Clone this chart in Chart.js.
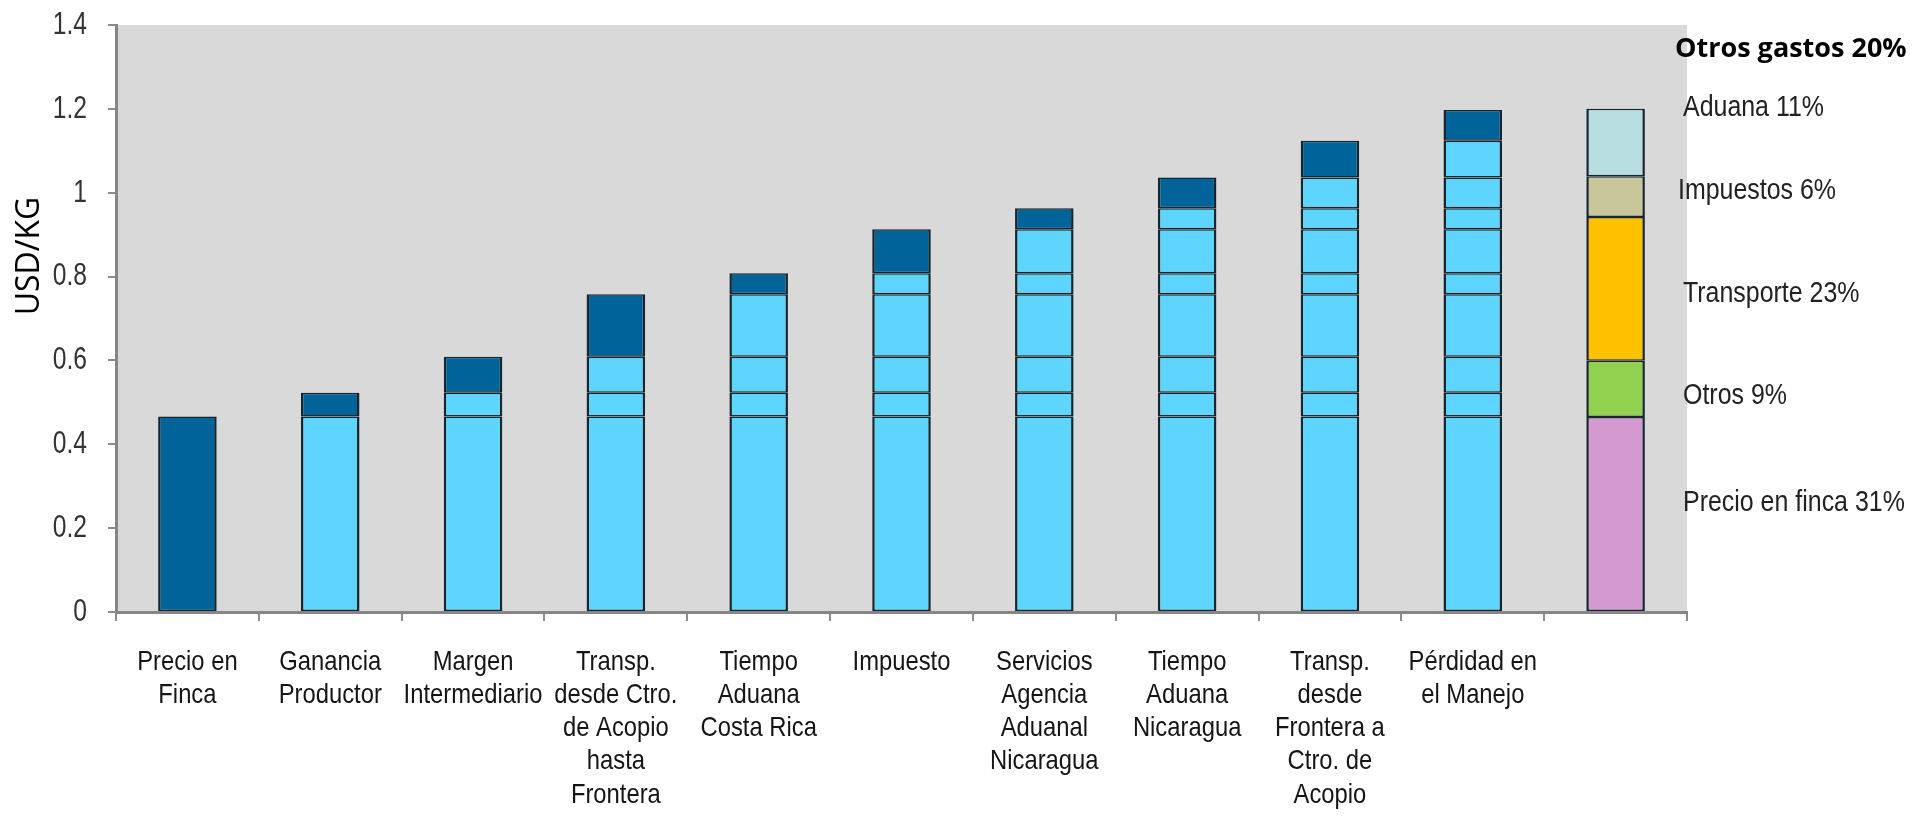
<!DOCTYPE html>
<html><head><meta charset="utf-8">
<script src="https://cdn.jsdelivr.net/npm/chart.js@4"></script>
<style>html,body{margin:0;padding:0;background:#fff;overflow:hidden}#wrap{width:1923px;height:818px;position:relative}</style>
</head><body><div id="wrap"><canvas id="c"></canvas></div>
<script>
// ---- data ----
const categories = [["Precio en","Finca"],["Ganancia","Productor"],["Margen","Intermediario"],["Transp.","desde Ctro.","de Acopio","hasta","Frontera"],["Tiempo","Aduana","Costa Rica"],["Impuesto"],["Servicios","Agencia","Aduanal","Nicaragua"],["Tiempo","Aduana","Nicaragua"],["Transp.","desde","Frontera a","Ctro. de","Acopio"],["Pérdidad en","el Manejo"],[""]];
const increments = [0.466,0.057,0.086,0.149,0.050,0.105,0.050,0.073,0.088,0.073];
const summaryNames = ["Precio en finca","Otros","Transporte","Impuestos","Aduana"];
const summaryValues = [0.465,0.134,0.343,0.097,0.161];
const summaryLabels = ["Precio en finca 31%","Otros 9%","Transporte 23%","Impuestos 6%","Aduana 11%"];
const headerLabel = "Otros gastos 20%";
const yTicks = [0,0.2,0.4,0.6,0.8,1,1.2,1.4];
const yTitle = "USD/KG";

// ---- styles ----
const DARK = '#00649a', LIGHT = '#5dd5fe', EDGE = '#15262e';
const summaryColors = ['#d49ad0','#92d050','#ffc000','#c9c69c','#b8dde1'];
const SANS = '"Liberation Sans", Arial, sans-serif';
const nCat = categories.length, summaryIndex = nCat - 1;
const bw = {top:1.5,bottom:1.5,left:2.5,right:2.5};

const datasets = [];
increments.forEach((v,k)=>{
  datasets.push({
    label: categories[k].join(' '),
    data: categories.map((_,i)=> (i>=k && i<summaryIndex) ? v : null),
    backgroundColor: categories.map((_,i)=> i===k ? DARK : LIGHT),
    borderColor: EDGE, borderWidth: bw, borderSkipped:false
  });
});
summaryValues.forEach((v,k)=>{
  datasets.push({
    label: summaryNames[k],
    data: categories.map((_,i)=> i===summaryIndex ? v : null),
    backgroundColor: summaryColors[k],
    borderColor: EDGE, borderWidth: bw, borderSkipped:false
  });
});

function narrowText(ctx, text, x, y, sx, align){
  ctx.save();
  ctx.translate(x, y);
  ctx.scale(sx, 1);
  ctx.textAlign = align;
  ctx.fillText(text, 0, 0);
  ctx.restore();
}

const bgPlugin = {
  id:'bg',
  beforeDraw(chart){
    const {ctx, chartArea:a} = chart;
    ctx.save(); ctx.fillStyle='#d9d9d9';
    ctx.fillRect(a.left, a.top, a.right-a.left, a.bottom-a.top);
    ctx.restore();
  }
};
const textPlugin = {
  id:'texts',
  afterDraw(chart){
    const {ctx} = chart;
    const xs = chart.scales.x, ys = chart.scales.y;
    // y tick labels
    ctx.save();
    ctx.fillStyle = '#333'; ctx.textBaseline = 'middle';
    ctx.font = '32px ' + SANS;
    yTicks.forEach(v => narrowText(ctx, String(v), ys.right - 29, ys.getPixelForValue(v), 0.77, 'right'));
    ctx.restore();
    // category labels
    ctx.save();
    ctx.fillStyle = '#151515'; ctx.textBaseline = 'middle';
    ctx.font = '28px ' + SANS;
    categories.forEach((lines, i) => {
      const x = xs.getPixelForValue(i);
      lines.forEach((t, j) => narrowText(ctx, t, x, xs.top + 50 + j*33.2, 0.85, 'center'));
    });
    ctx.restore();
    // axis title
    ctx.save();
    ctx.fillStyle='#000';
    ctx.font = '32px "Open Sans", sans-serif';
    ctx.textAlign='center'; ctx.textBaseline='middle';
    ctx.translate(30, 256); ctx.rotate(-Math.PI/2);
    ctx.fillText(yTitle, 0, 0);
    ctx.restore();
    // summary labels
    ctx.save();
    ctx.textAlign='left'; ctx.textBaseline='middle';
    ctx.fillStyle='#000';
    ctx.font = 'bold 27px "Open Sans", sans-serif';
    ctx.fillText(headerLabel, 1675, 49);
    ctx.font = '29px ' + SANS;
    ctx.fillStyle='#222';
    const ly = [503, 396, 294, 191, 108];
    const lx = [1683, 1683, 1683, 1678, 1683];
    summaryLabels.forEach((t,i)=> narrowText(ctx, t, lx[i], ly[i], 0.86, 'left'));
    ctx.restore();
  }
};

new Chart(document.getElementById('c'), {
  type:'bar',
  data:{ labels: categories.map(l=>l.join(' ')), datasets },
  options:{
    responsive:true, maintainAspectRatio:false, animation:false,
    layout:{ padding:{ left:0, right:236, top:25, bottom:0 } },
    plugins:{ legend:{display:false}, tooltip:{enabled:false}, title:{display:false} },
    datasets:{ bar:{ barPercentage:0.41, categoryPercentage:1 } },
    scales:{
      x:{
        stacked:true,
        grid:{ display:true, drawOnChartArea:false, drawTicks:true, tickLength:9, offset:true, color:'#8c8c8c', lineWidth:2 },
        border:{ display:true, color:'#868686', width:3 },
        ticks:{ display:false, autoSkip:false, maxRotation:0, minRotation:0 },
        afterFit(s){ s.height = 206; }
      },
      y:{
        stacked:true, min:0, max:1.4,
        afterBuildTicks(s){ s.ticks = yTicks.map(v=>({value:v})); },
        grid:{ display:true, drawOnChartArea:false, drawTicks:true, tickLength:8, color:'#8c8c8c', lineWidth:2 },
        border:{ display:true, color:'#868686', width:3 },
        ticks:{ display:false },
        afterFit(s){ s.width = 116; }
      }
    }
  },
  plugins:[bgPlugin, textPlugin]
});
</script></body></html>
